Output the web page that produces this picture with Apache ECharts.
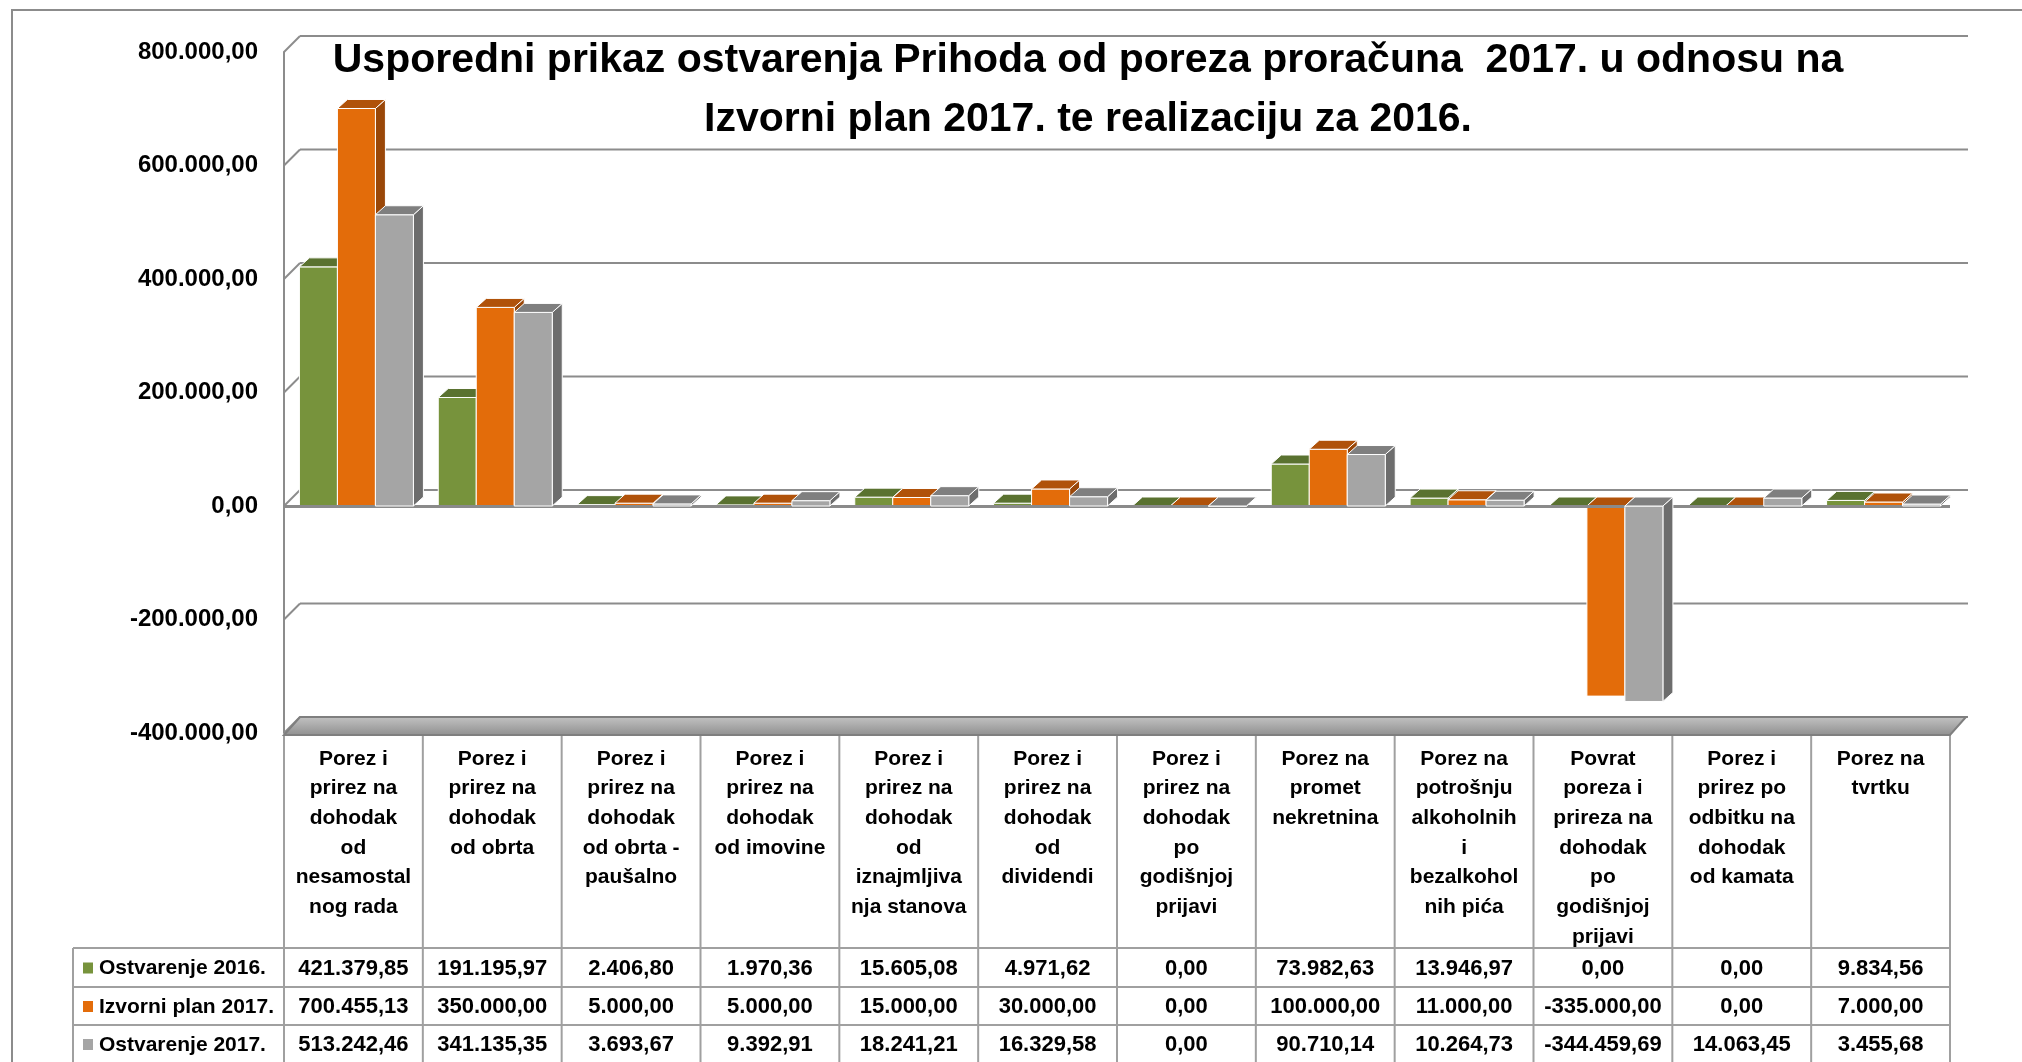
<!DOCTYPE html>
<html lang="hr">
<head>
    <meta charset="UTF-8">
    <title>Usporedni prikaz ostvarenja Prihoda od poreza</title>
    <script src="https://cdn.jsdelivr.net/npm/echarts@6/dist/echarts.min.js"></script>
    <style>
        html, body { margin: 0; padding: 0; background: #fff; }
        #chart { width: 2022px; height: 1062px; }
    </style>
</head>
<body>
    <div id="chart"></div>

    <script>
        const categories = [
            'Porez i\nprirez na\ndohodak\nod\nnesamostal\nnog rada',
            'Porez i\nprirez na\ndohodak\nod obrta',
            'Porez i\nprirez na\ndohodak\nod obrta -\npaušalno',
            'Porez i\nprirez na\ndohodak\nod imovine',
            'Porez i\nprirez na\ndohodak\nod\niznajmljiva\nnja stanova',
            'Porez i\nprirez na\ndohodak\nod\ndividendi',
            'Porez i\nprirez na\ndohodak\npo\ngodišnjoj\nprijavi',
            'Porez na\npromet\nnekretnina',
            'Porez na\npotrošnju\nalkoholnih\ni\nbezalkohol\nnih pića',
            'Povrat\nporeza i\nprireza na\ndohodak\npo\ngodišnjoj\nprijavi',
            'Porez i\nprirez po\nodbitku na\ndohodak\nod kamata',
            'Porez na\ntvrtku'
        ];
        const seriesNames = ['Ostvarenje 2016.', 'Izvorni plan 2017.', 'Ostvarenje 2017.'];
        const ostvarenje2016 = [421379.85, 191195.97, 2406.80, 1970.36, 15605.08, 4971.62, 0, 73982.63, 13946.97, 0, 0, 9834.56];
        const izvorniPlan2017 = [700455.13, 350000.00, 5000.00, 5000.00, 15000.00, 30000.00, 0, 100000.00, 11000.00, -335000.00, 0, 7000.00];
        const ostvarenje2017 = [513242.46, 341135.35, 3693.67, 9392.91, 18241.21, 16329.58, 0, 90710.14, 10264.73, -344459.69, 14063.45, 3455.68];
        const yTicks = [-400000, -200000, 0, 200000, 400000, 600000, 800000];

        const FONT = '"Liberation Sans", Arial, sans-serif';
        const colors = {
            front: ['#77933c', '#e36c0a', '#a5a5a5'],
            top: ['#5a7230', '#b0520a', '#7f7f7f'],
            side: ['#4f6428', '#9a4708', '#6d6d6d']
        };

        // layout
        const GRID = { left: 284, right: 72, top: 52, bottom: 329 };
        const CHART_W = 2022, CHART_H = 1062;
        const WALL_DX = 16, WALL_DY = 16;
        const BAR_W = 38, BAR_DX = 10, BAR_DY = 9, BAR_SHIFT = 3;

        function fmt(v) {
            const neg = v < 0;
            const parts = Math.abs(v).toFixed(2).split('.');
            const int = parts[0].replace(/\B(?=(\d{3})+(?!\d))/g, '.');
            return (neg ? '-' : '') + int + ',' + parts[1];
        }

        function barRender(s) {
            return function (params, api) {
                const idx = api.value(0);
                const v = api.value(1);
                const base = api.coord([idx, 0]);
                const end = api.coord([idx, v]);
                const x0 = base[0] - 1.5 * BAR_W + s * BAR_W + BAR_SHIFT;
                const x1 = x0 + BAR_W;
                const yTop = Math.min(base[1], end[1]);
                const yBot = Math.max(base[1], end[1]);
                const yCap = v >= 0 ? end[1] : base[1];
                const stroke = { stroke: '#ffffff', lineWidth: 1 };
                return {
                    type: 'group',
                    children: [
                        {
                            type: 'polygon',
                            shape: { points: [[x1, yTop], [x1 + BAR_DX, yTop - BAR_DY], [x1 + BAR_DX, yBot - BAR_DY], [x1, yBot]] },
                            style: Object.assign({ fill: colors.side[s] }, stroke)
                        },
                        {
                            type: 'rect',
                            shape: { x: x0, y: yTop, width: BAR_W, height: yBot - yTop },
                            style: Object.assign({ fill: colors.front[s] }, stroke)
                        },
                        {
                            type: 'polygon',
                            shape: { points: [[x0, yCap], [x1, yCap], [x1 + BAR_DX, yCap - BAR_DY], [x0 + BAR_DX, yCap - BAR_DY]] },
                            style: Object.assign({ fill: colors.top[s] }, stroke)
                        }
                    ]
                };
            };
        }

        function wallRender(params, api) {
            const cs = params.coordSys;
            const v = api.value(1);
            const y = api.coord([0, v])[1];
            const children = [
                { type: 'line', shape: { x1: cs.x, y1: y, x2: cs.x + WALL_DX, y2: y - WALL_DY }, style: { stroke: '#8c8c8c', lineWidth: 2 } },
                { type: 'line', shape: { x1: cs.x + WALL_DX, y1: y - WALL_DY, x2: cs.x + cs.width + WALL_DX + 2, y2: y - WALL_DY }, style: { stroke: '#8c8c8c', lineWidth: 2 } }
            ];
            if (v === yTicks[0]) {
                children.push({
                    type: 'polygon',
                    shape: { points: [[cs.x, y + 2], [cs.x + cs.width, y + 2], [cs.x + cs.width + WALL_DX, y - WALL_DY], [cs.x + WALL_DX, y - WALL_DY]] },
                    style: {
                        fill: new echarts.graphic.LinearGradient(0, 0, 0, 1, [
                            { offset: 0, color: '#c4c4c4' },
                            { offset: 1, color: '#8e8e8e' }
                        ]),
                        stroke: '#7f7f7f',
                        lineWidth: 2
                    }
                });
            }
            return { type: 'group', children: children };
        }

        function tableGraphics() {
            const g = [];
            const x0 = GRID.left;
            const colW = (CHART_W - GRID.left - GRID.right) / categories.length;
            const xEnd = x0 + colW * categories.length;
            const headTop = CHART_H - GRID.bottom + 2;
            const rowY = [948, 987, 1025, 1063];
            const legLeft = 73;
            const line = { stroke: '#a0a0a0', lineWidth: 2 };

            for (let i = 0; i <= categories.length; i++) {
                const x = x0 + i * colW;
                g.push({ type: 'line', silent: true, shape: { x1: x, y1: headTop, x2: x, y2: CHART_H }, style: line });
            }
            g.push({ type: 'line', silent: true, shape: { x1: legLeft, y1: rowY[0], x2: legLeft, y2: CHART_H }, style: line });
            rowY.slice(0, 3).forEach(function (y) {
                g.push({ type: 'line', silent: true, shape: { x1: legLeft, y1: y, x2: xEnd, y2: y }, style: line });
            });

            const rows = [ostvarenje2016, izvorniPlan2017, ostvarenje2017];
            rows.forEach(function (vals, r) {
                const yc = (rowY[r] + rowY[r + 1]) / 2 + 1;
                g.push({ type: 'rect', silent: true, shape: { x: 83, y: yc - 6, width: 10, height: 11 }, style: { fill: colors.front[r] } });
                g.push({
                    type: 'text', silent: true, x: 99, y: yc,
                    style: { text: seriesNames[r], font: 'bold 21px ' + FONT, fill: '#000', align: 'left', verticalAlign: 'middle' }
                });
                vals.forEach(function (v, i) {
                    g.push({
                        type: 'text', silent: true, x: x0 + (i + 0.5) * colW, y: yc,
                        style: { text: fmt(v), font: 'bold 22px ' + FONT, fill: '#000', align: 'center', verticalAlign: 'middle' }
                    });
                });
            });

            g.push({
                type: 'rect', silent: true, z: -10,
                shape: { x: 12, y: 10, width: 2100, height: 1200 },
                style: { fill: 'none', stroke: '#8c8c8c', lineWidth: 2 }
            });
            return g;
        }

        const chart = echarts.init(document.getElementById('chart'));

        const barSeries = [ostvarenje2016, izvorniPlan2017, ostvarenje2017].map(function (vals, s) {
            const ser = {
                name: seriesNames[s],
                type: 'custom',
                z: 3 + s,
                renderItem: barRender(s),
                encode: { x: 0, y: 1 },
                data: vals.map(function (v, i) { return [i, v]; })
            };
            if (s === 2) {
                ser.markLine = {
                    silent: true,
                    symbol: 'none',
                    label: { show: false },
                    lineStyle: { color: '#8a8a8a', width: 3, type: 'solid' },
                    data: [{ yAxis: 0 }]
                };
            }
            return ser;
        });

        chart.setOption({
            animation: false,
            backgroundColor: '#ffffff',
            title: {
                text: 'Usporedni prikaz ostvarenja Prihoda od poreza proračuna  2017. u odnosu na\nIzvorni plan 2017. te realizaciju za 2016.',
                left: 1083,
                top: 26,
                textAlign: 'center',
                textStyle: { fontFamily: FONT, fontSize: 41, fontWeight: 'bold', color: '#000', lineHeight: 59 }
            },
            grid: GRID,
            xAxis: {
                type: 'category',
                data: categories,
                axisLine: { show: false, onZero: false },
                axisTick: { show: false },
                axisLabel: {
                    interval: 0,
                    margin: 11,
                    fontFamily: FONT,
                    fontSize: 21,
                    fontWeight: 'bold',
                    color: '#000',
                    lineHeight: 29.7,
                    align: 'center'
                },
                splitLine: { show: false }
            },
            yAxis: {
                type: 'value',
                min: yTicks[0],
                max: yTicks[yTicks.length - 1],
                interval: 200000,
                axisLine: { show: true, lineStyle: { color: '#8c8c8c', width: 2 } },
                axisTick: { show: false },
                splitLine: { show: false },
                axisLabel: {
                    margin: 26,
                    fontFamily: FONT,
                    fontSize: 24,
                    fontWeight: 'bold',
                    color: '#000',
                    formatter: fmt
                }
            },
            graphic: tableGraphics(),
            series: [{
                name: 'wall',
                type: 'custom',
                silent: true,
                z: 1,
                renderItem: wallRender,
                encode: { x: 0, y: 1 },
                data: yTicks.map(function (v) { return [0, v]; })
            }].concat(barSeries)
        });
    </script>
</body>
</html>
